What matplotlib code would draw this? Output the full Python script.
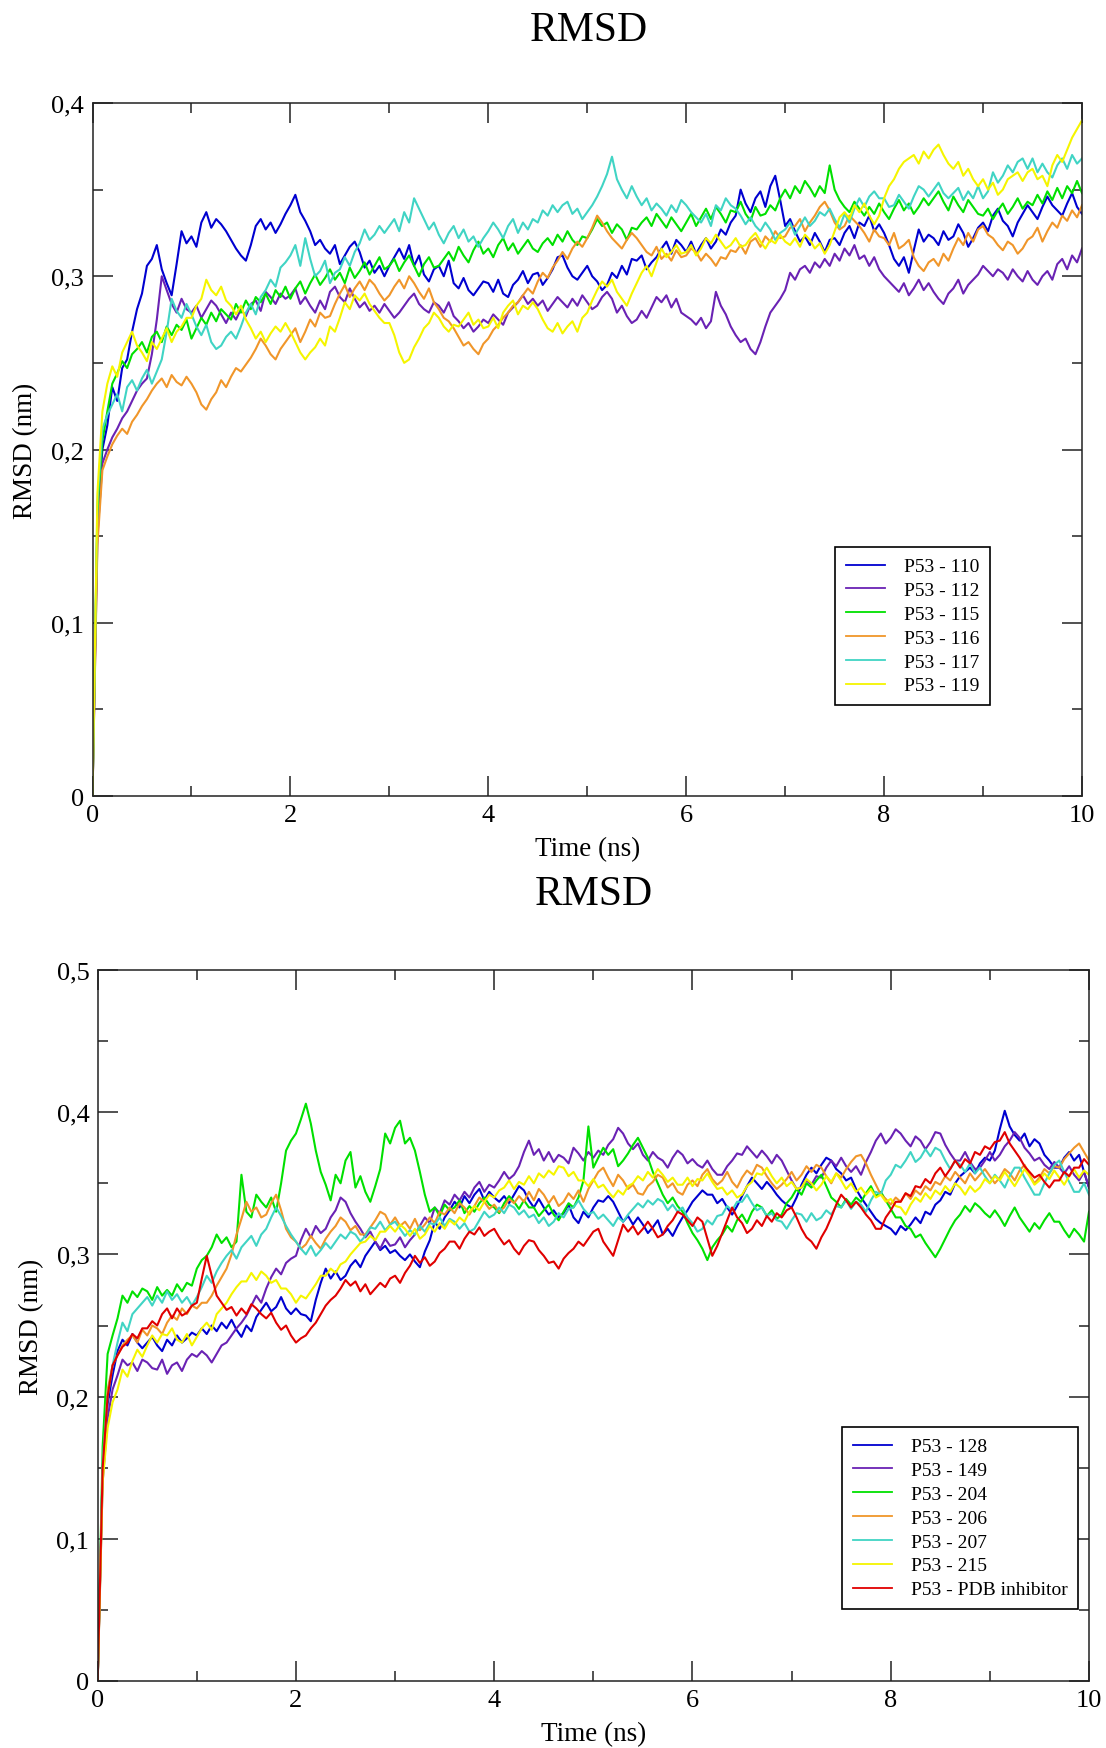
import numpy as np
import matplotlib
matplotlib.use('Agg')
import matplotlib.pyplot as plt
from matplotlib.ticker import MultipleLocator, FuncFormatter

plt.rcParams['font.family'] = ['Liberation Serif', 'DejaVu Serif']

# RMSD, in units of 0.001 nm, one value every 0.05 ns (0 .. 10 ns)
DT = 0.05

p110 = [
    0, 160, 200, 214, 236, 228, 247, 252, 268, 281, 290, 306, 310, 318, 304, 296, 289, 307, 326, 319,
    323, 317, 331, 337, 328, 333, 330, 326, 321, 316, 312, 309, 318, 329, 333, 327, 331, 325, 330, 336,
    341, 347, 337, 332, 326, 318, 321, 316, 313, 318, 307, 312, 317, 320, 314, 305, 309, 302, 306, 300,
    306, 311, 316, 310, 318, 306, 312, 301, 297, 304, 306, 300, 309, 296, 293, 299, 292, 289, 293, 297,
    296, 291, 298, 290, 288, 295, 298, 303, 296, 301, 302, 295, 299, 304, 311, 312, 305, 300, 298, 302,
    306, 300, 297, 292, 295, 302, 299, 306, 301, 310, 309, 312, 304, 308, 311, 316, 320, 313, 321, 318,
    314, 320, 313, 318, 322, 316, 320, 327, 324, 331, 335, 350, 342, 337, 345, 349, 340, 352, 358, 344,
    329, 333, 326, 320, 323, 318, 325, 320, 314, 321, 322, 318, 325, 329, 322, 331, 329, 335, 326, 330,
    325, 318, 310, 306, 311, 302, 315, 327, 320, 324, 322, 318, 326, 321, 323, 330, 325, 317, 322, 328,
    331, 326, 335, 339, 332, 329, 323, 331, 336, 341, 337, 333, 340, 346, 341, 338, 335, 342, 348, 340,
    336]

p112 = [
    0, 150, 192, 200, 207, 212, 218, 222, 228, 234, 238, 241, 255, 275, 300, 292, 284, 279, 287, 281,
    279, 283, 276, 281, 286, 283, 278, 273, 279, 275, 281, 277, 284, 286, 280, 291, 288, 284, 290, 287,
    289, 293, 284, 288, 283, 279, 286, 281, 291, 294, 288, 285, 293, 287, 282, 285, 280, 283, 279, 284,
    280, 276, 279, 283, 287, 290, 284, 281, 279, 285, 283, 279, 285, 277, 274, 270, 273, 268, 271, 275,
    273, 278, 275, 272, 279, 282, 285, 289, 284, 287, 283, 286, 280, 284, 288, 285, 282, 287, 283, 289,
    285, 281, 283, 288, 291, 287, 279, 283, 277, 273, 275, 280, 276, 282, 288, 285, 289, 282, 287, 279,
    277, 275, 272, 276, 270, 274, 291, 283, 278, 271, 266, 262, 264, 258, 255, 262, 271, 279, 283, 287,
    292, 302, 298, 304, 306, 302, 308, 305, 310, 306, 313, 309, 316, 312, 318, 310, 312, 306, 311, 304,
    300, 297, 294, 291, 296, 289, 293, 298, 292, 296, 291, 287, 284, 290, 293, 298, 290, 295, 298, 301,
    306, 303, 300, 304, 302, 298, 304, 300, 297, 303, 298, 295, 300, 303, 298, 307, 310, 304, 312, 308,
    316]

p115 = [
    0, 165, 205, 222, 238, 244, 251, 247, 255, 258, 262, 256, 265, 268, 262, 271, 266, 272, 269, 275,
    264, 270, 276, 272, 279, 274, 281, 278, 275, 284, 279, 286, 281, 288, 285, 290, 284, 292, 288, 294,
    287, 293, 297, 290, 296, 301, 295, 299, 304, 298, 302, 296, 305, 299, 303, 308, 301, 306, 311, 304,
    306, 310, 303, 308, 312, 306, 300, 307, 311, 305, 306, 310, 314, 309, 317, 312, 308, 315, 320, 313,
    316, 311, 318, 322, 315, 319, 313, 317, 321, 316, 314, 319, 322, 318, 324, 320, 326, 321, 318, 323,
    322, 327, 333, 329, 331, 325, 330, 327, 321, 328, 327, 331, 334, 329, 336, 332, 328, 334, 330, 326,
    331, 336, 329, 334, 339, 333, 340, 336, 331, 338, 337, 343, 336, 332, 340, 335, 336, 341, 338, 345,
    350, 345, 352, 348, 355, 351, 346, 352, 348, 364, 350, 344, 340, 337, 343, 339, 335, 340, 336, 342,
    337, 333, 339, 344, 338, 342, 336, 340, 345, 341, 345, 349, 343, 338, 346, 341, 337, 344, 340, 336,
    335, 339, 333, 338, 342, 336, 340, 345, 339, 343, 341, 347, 342, 349, 344, 351, 345, 352, 348, 355,
    348]

p116 = [
    0, 145, 188, 196, 203, 208, 212, 209, 216, 220, 225, 229, 234, 238, 241, 236, 243, 239, 237, 242,
    238, 233, 226, 223, 229, 233, 240, 236, 242, 247, 245, 249, 253, 258, 264, 260, 255, 252, 258, 262,
    266, 270, 262, 268, 275, 271, 279, 276, 277, 284, 290, 295, 288, 293, 297, 292, 298, 295, 290, 286,
    289, 294, 298, 293, 300, 296, 291, 287, 293, 285, 281, 276, 274, 270, 265, 260, 262, 258, 255, 261,
    264, 269, 272, 276, 279, 283, 285, 289, 293, 290, 297, 302, 299, 305, 309, 314, 310, 316, 320, 317,
    322, 328, 335, 331, 326, 322, 319, 316, 321, 325, 322, 318, 314, 312, 317, 310, 313, 309, 315, 311,
    312, 316, 314, 309, 313, 310, 306, 311, 310, 315, 314, 318, 313, 320, 322, 317, 323, 320, 326, 322,
    323, 328, 329, 333, 326, 331, 335, 340, 343, 338, 331, 327, 329, 335, 332, 329, 325, 320, 327, 323,
    322, 318, 325, 316, 318, 321, 311, 306, 303, 308, 310, 306, 313, 309, 316, 322, 318, 325, 320, 327,
    329, 324, 322, 318, 315, 320, 318, 313, 316, 321, 323, 328, 320, 326, 331, 328, 335, 332, 338, 334,
    341]

p117 = [
    0, 170, 212, 220, 226, 232, 222, 236, 240, 234, 241, 246, 238, 245, 252, 268, 287, 280, 276, 284,
    278, 271, 266, 272, 262, 258, 260, 265, 268, 264, 271, 279, 284, 278, 288, 292, 298, 294, 305, 308,
    312, 318, 306, 322, 310, 300, 303, 309, 296, 302, 304, 311, 306, 314, 319, 327, 321, 324, 329, 325,
    329, 333, 326, 337, 331, 345, 339, 333, 327, 331, 324, 319, 325, 329, 322, 327, 320, 323, 317, 322,
    326, 331, 327, 322, 329, 333, 325, 331, 327, 333, 331, 338, 335, 341, 337, 341, 343, 336, 339, 333,
    337, 341, 346, 352, 359, 369, 356, 350, 345, 352, 346, 341, 345, 338, 342, 339, 335, 341, 337, 344,
    341, 337, 334, 331, 336, 329, 341, 338, 345, 341, 339, 335, 330, 334, 329, 326, 331, 327, 321, 325,
    327, 331, 324, 329, 334, 329, 332, 337, 335, 339, 333, 328, 336, 331, 339, 345, 340, 346, 349, 345,
    345, 340, 341, 347, 343, 339, 346, 352, 350, 346, 350, 354, 348, 345, 348, 351, 344, 349, 345, 352,
    345, 349, 360, 354, 358, 364, 360, 366, 368, 362, 368, 360, 365, 360, 357, 364, 368, 362, 370, 365,
    368]

p119 = [
    0, 175, 222, 238, 248, 242, 256, 262, 268, 260, 256, 251, 262, 258, 264, 270, 262, 268, 271, 276,
    276, 283, 287, 298, 292, 289, 294, 286, 283, 278, 283, 275, 270, 264, 268, 262, 267, 271, 268, 273,
    268, 262, 256, 252, 256, 259, 264, 260, 271, 268, 276, 285, 281, 289, 286, 290, 284, 280, 276, 273,
    273, 266, 256, 250, 252, 259, 264, 270, 273, 279, 276, 271, 268, 272, 271, 275, 279, 272, 275, 270,
    271, 276, 270, 279, 283, 286, 278, 283, 281, 285, 281, 275, 270, 268, 273, 267, 271, 274, 268, 276,
    279, 286, 292, 297, 294, 298, 291, 287, 283, 290, 296, 302, 306, 300, 308, 316, 311, 314, 318, 313,
    314, 318, 312, 316, 322, 319, 324, 320, 316, 318, 322, 317, 318, 322, 325, 320, 316, 321, 319, 324,
    320, 318, 322, 317, 324, 321, 316, 319, 313, 318, 326, 334, 337, 333, 341, 337, 342, 335, 330, 335,
    345, 352, 356, 362, 366, 368, 370, 365, 372, 368, 373, 376, 370, 365, 362, 366, 358, 362, 356, 352,
    356, 350, 354, 347, 350, 356, 358, 360, 355, 360, 362, 356, 358, 352, 364, 370, 366, 373, 380, 385,
    390]

p128 = [
    0, 150, 195, 215, 232, 240, 236, 244, 238, 234, 238, 242, 236, 232, 240, 236, 243, 238, 241, 245,
    243, 248, 244, 250, 246, 252, 248, 254, 247, 242, 250, 246, 256, 261, 266, 260, 263, 270, 262, 258,
    262, 258, 257, 253, 268, 280, 290, 283, 288, 282, 285, 292, 296, 291, 299, 304, 309, 303, 306, 301,
    303, 299, 296, 300, 295, 291, 302, 310, 323, 318, 326, 331, 337, 333, 341, 336, 342, 346, 338, 344,
    340, 337, 341, 336, 342, 348, 345, 338, 333, 339, 333, 328, 331, 326, 329, 335, 326, 322, 330, 326,
    333, 338, 337, 341, 337, 330, 323, 327, 321, 326, 321, 315, 319, 324, 314, 318, 313, 320, 326, 331,
    337, 341, 345, 342, 342, 336, 339, 333, 328, 334, 341, 348, 354, 350, 346, 351, 347, 342, 338, 335,
    333, 340, 349, 356, 361, 357, 363, 368, 366, 360, 357, 352, 354, 346, 340, 335, 330, 325, 322, 320,
    318, 314, 320, 317, 321, 326, 322, 330, 328, 335, 338, 344, 342, 350, 355, 358, 361, 357, 364, 368,
    366, 373, 388, 401, 390, 384, 380, 385, 376, 381, 378, 370, 366, 361, 361, 368, 372, 366, 370, 358,
    347]

p149 = [
    0, 140, 185, 205, 215, 226, 222, 224, 218, 226, 224, 220, 219, 226, 216, 222, 224, 218, 226, 230,
    228, 232, 229, 224, 230, 236, 238, 243, 248, 252, 257, 264, 271, 266, 276, 284, 290, 286, 294, 297,
    299, 310, 318, 312, 320, 315, 318, 326, 331, 340, 337, 329, 323, 318, 312, 316, 309, 304, 311, 306,
    307, 312, 305, 310, 314, 320, 326, 322, 333, 329, 338, 335, 342, 338, 344, 340, 347, 351, 344, 349,
    347, 352, 358, 353, 356, 362, 372, 380, 370, 374, 366, 372, 365, 370, 368, 364, 375, 371, 366, 372,
    368, 373, 370, 377, 381, 389, 385, 378, 374, 378, 370, 366, 372, 368, 366, 361, 368, 373, 370, 364,
    367, 363, 361, 366, 360, 356, 356, 362, 366, 371, 370, 376, 372, 368, 373, 369, 364, 370, 366, 359,
    352, 346, 347, 352, 349, 355, 354, 361, 366, 362, 368, 362, 358, 362, 356, 365, 372, 380, 385, 378,
    382, 388, 385, 380, 376, 383, 380, 374, 379, 386, 385, 377, 371, 366, 366, 372, 365, 360, 361, 366,
    372, 366, 370, 376, 380, 386, 382, 375, 371, 366, 368, 363, 360, 365, 361, 357, 362, 356, 352, 358,
    347]

p204 = [
    0, 165, 230, 243, 255, 271, 266, 274, 270, 276, 274, 268, 277, 271, 275, 271, 279, 274, 280, 278,
    290, 296, 299, 305, 314, 308, 312, 305, 309, 356, 330, 326, 342, 337, 333, 340, 330, 350, 373, 380,
    385, 395, 406, 392, 373, 358, 349, 338, 356, 350, 366, 372, 347, 355, 344, 337, 348, 360, 385, 378,
    389, 394, 378, 382, 373, 358, 342, 330, 333, 327, 335, 331, 333, 338, 329, 334, 330, 336, 340, 335,
    333, 329, 336, 341, 337, 332, 338, 333, 333, 327, 331, 335, 328, 324, 330, 336, 333, 340, 352, 390,
    361, 368, 375, 370, 374, 362, 366, 371, 377, 382, 375, 368, 358, 350, 342, 336, 340, 334, 330, 322,
    315, 310, 304, 296, 305, 310, 314, 320, 316, 324, 328, 322, 330, 335, 333, 327, 331, 325, 328, 336,
    340, 346, 342, 350, 347, 352, 356, 348, 340, 337, 333, 339, 335, 340, 337, 343, 348, 341, 344, 338,
    332, 326, 326, 320, 318, 312, 314, 308, 303, 298, 304, 311, 318, 324, 328, 334, 330, 336, 333, 329,
    326, 331, 326, 320, 327, 333, 326, 321, 316, 322, 318, 324, 329, 323, 323, 317, 312, 318, 314, 309,
    330]

p206 = [
    0, 145, 205, 222, 229, 236, 240, 243, 238, 247, 243, 250, 248, 244, 252, 257, 254, 262, 258, 264,
    262, 266, 266, 271, 278, 284, 290, 300, 314, 325, 337, 330, 333, 326, 328, 336, 342, 331, 318, 312,
    309, 304, 307, 313, 308, 304, 311, 316, 320, 326, 323, 317, 320, 314, 314, 319, 324, 330, 328, 321,
    326, 320, 323, 318, 325, 317, 321, 326, 322, 330, 328, 333, 329, 336, 333, 328, 334, 340, 337, 332,
    335, 330, 333, 339, 336, 341, 337, 344, 338, 346, 342, 336, 341, 334, 337, 343, 339, 345, 337, 346,
    352, 358, 361, 354, 348, 356, 352, 346, 349, 343, 342, 348, 351, 356, 354, 347, 350, 344, 342, 349,
    352, 348, 356, 360, 353, 349, 352, 358, 351, 347, 354, 359, 356, 363, 361, 355, 350, 346, 349, 353,
    358, 352, 356, 362, 358, 363, 361, 355, 350, 357, 354, 360, 365, 369, 370, 364, 356, 349, 342, 339,
    335, 340, 337, 343, 339, 345, 342, 348, 345, 351, 349, 355, 352, 358, 354, 350, 357, 352, 356, 360,
    355, 350, 354, 360, 357, 352, 359, 363, 356, 350, 354, 360, 357, 362, 361, 367, 371, 375, 378, 372,
    366]

p207 = [
    0, 155, 200, 222, 238, 252, 246, 258, 262, 266, 270, 264, 271, 266, 274, 268, 272, 266, 270, 264,
    270, 277, 285, 280, 288, 294, 299, 303, 297, 305, 309, 313, 306, 314, 318, 326, 333, 327, 320, 314,
    309, 304, 300, 306, 299, 303, 308, 304, 309, 314, 311, 316, 314, 309, 313, 319, 318, 323, 317, 321,
    323, 318, 313, 317, 314, 320, 316, 322, 321, 326, 320, 325, 323, 318, 322, 316, 318, 324, 330, 326,
    328, 333, 329, 335, 333, 328, 331, 326, 328, 322, 326, 320, 323, 329, 326, 332, 333, 338, 332, 328,
    330, 325, 328, 324, 320, 326, 323, 328, 332, 336, 333, 338, 335, 339, 337, 331, 335, 330, 333, 326,
    322, 316, 318, 324, 321, 327, 328, 334, 331, 337, 337, 342, 336, 331, 333, 327, 329, 324, 323, 318,
    324, 329, 328, 323, 329, 324, 326, 331, 328, 334, 333, 338, 332, 337, 335, 330, 338, 344, 342, 352,
    356, 363, 361, 366, 372, 365, 368, 374, 369, 375, 373, 366, 360, 366, 363, 358, 364, 357, 361, 355,
    350, 356, 352, 347, 355, 361, 361, 354, 348, 342, 342, 350, 357, 363, 366, 358, 351, 344, 344, 350,
    342]

p215 = [
    0, 140, 178, 196, 205, 219, 214, 225, 233, 228, 236, 243, 238, 244, 243, 248, 240, 238, 244, 236,
    242, 248, 252, 247, 258, 262, 266, 272, 277, 281, 281, 287, 282, 288, 285, 280, 282, 276, 276, 272,
    266, 271, 269, 274, 279, 285, 285, 290, 287, 293, 295, 300, 304, 308, 309, 313, 310, 316, 316, 320,
    316, 321, 318, 313, 318, 311, 314, 320, 316, 322, 318, 324, 321, 326, 323, 330, 334, 331, 337, 342,
    340, 345, 347, 352, 346, 351, 349, 355, 350, 357, 354, 359, 356, 362, 361, 355, 358, 352, 352, 348,
    353, 347, 349, 344, 340, 345, 342, 348, 350, 355, 352, 358, 354, 360, 356, 351, 354, 349, 349, 354,
    348, 353, 352, 357, 351, 346, 347, 342, 345, 340, 342, 348, 351, 357, 356, 361, 355, 350, 354, 348,
    351, 346, 347, 353, 350, 345, 349, 355, 351, 357, 352, 346, 350, 344, 347, 342, 346, 340, 342, 337,
    339, 334, 333, 328, 335, 340, 337, 343, 339, 345, 342, 348, 344, 350, 347, 342, 348, 344, 347, 353,
    350, 355, 352, 358, 353, 348, 354, 360, 355, 349, 352, 357, 353, 359, 354, 349, 355, 360, 354, 359,
    356]

p_pdb = [
    0, 150, 200, 222, 229, 235, 238, 244, 241, 248, 248, 253, 250, 258, 262, 255, 262, 257, 259, 264,
    266, 283, 299, 285, 271, 266, 261, 263, 257, 262, 258, 265, 262, 258, 255, 259, 252, 247, 250, 243,
    238, 241, 243, 248, 252, 258, 264, 268, 271, 276, 282, 278, 281, 274, 279, 272, 276, 280, 277, 283,
    285, 280, 287, 292, 299, 294, 298, 292, 295, 301, 304, 309, 309, 304, 311, 316, 314, 319, 313, 316,
    318, 312, 307, 310, 304, 300, 306, 310, 309, 303, 299, 294, 295, 290, 297, 301, 304, 309, 306, 311,
    316, 318, 309, 304, 299, 310, 321, 316, 320, 314, 318, 323, 318, 312, 314, 320, 324, 330, 328, 324,
    320, 326, 323, 311, 299, 306, 315, 324, 333, 326, 322, 315, 318, 324, 320, 327, 323, 329, 326, 331,
    333, 326, 318, 312, 309, 304, 312, 318, 326, 335, 342, 338, 333, 337, 333, 328, 324, 318, 318, 326,
    331, 337, 337, 343, 341, 348, 347, 353, 350, 357, 361, 355, 360, 366, 361, 367, 364, 372, 370, 376,
    374, 379, 380, 386, 378, 373, 368, 362, 358, 354, 356, 351, 347, 352, 352, 358, 355, 361, 361, 367,
    363]

top_series = [p110, p112, p115, p116, p117, p119]
top_labels = ['P53 - 110', 'P53 - 112', 'P53 - 115', 'P53 - 116', 'P53 - 117', 'P53 - 119']
top_colors = ['#0000d0', '#6a22b4', '#00e000', '#f0962a', '#40d4c4', '#f5f500']

bottom_series = [p128, p149, p204, p206, p207, p215, p_pdb]
bottom_labels = ['P53 - 128', 'P53 - 149', 'P53 - 204', 'P53 - 206', 'P53 - 207',
                 'P53 - 215', 'P53 - PDB inhibitor']
bottom_colors = ['#0000d0', '#6a22b4', '#00e000', '#f0962a', '#40d4c4', '#f5f500', '#e00000']


def comma_fmt(v, pos):
    if abs(v) < 1e-9:
        return '0'
    return ('%.1f' % v).replace('.', ',')


def draw_panel(ax, series, labels, colors, ymax, legend_xy):
    for vals, lab, col in zip(series, labels, colors):
        y = np.array(vals) / 1000.0
        t = np.arange(len(y)) * DT
        ax.plot(t, y, color=col, lw=1.5, label=lab)
    ax.set_xlim(0, 10)
    ax.set_ylim(0, ymax)
    ax.xaxis.set_major_locator(MultipleLocator(2))
    ax.xaxis.set_minor_locator(MultipleLocator(1))
    ax.yaxis.set_major_locator(MultipleLocator(0.1))
    ax.yaxis.set_minor_locator(MultipleLocator(0.05))
    ax.yaxis.set_major_formatter(FuncFormatter(comma_fmt))
    ax.tick_params(which='both', direction='in', top=True, right=True,
                   width=1.1, color='#222222', labelsize=19, pad=6)
    ax.tick_params(which='major', length=14.4)
    ax.tick_params(which='minor', length=7.2)
    for sp in ax.spines.values():
        sp.set_linewidth(1.1)
        sp.set_color('#222222')
    ax.set_xlabel('Time (ns)', fontsize=19.5, labelpad=7)
    ax.set_ylabel('RMSD (nm)', fontsize=19.5)
    leg = ax.legend(loc='upper left', bbox_to_anchor=legend_xy,
                    bbox_transform=fig.transFigure, fontsize=14,
                    frameon=True, fancybox=False, framealpha=1,
                    edgecolor='black', handlelength=2.0, handletextpad=1.0,
                    labelspacing=0.32, borderpad=0.55, borderaxespad=0)
    leg.get_frame().set_linewidth(1.2)
    for ln in leg.get_lines():
        ln.set_linewidth(1.3)


W, H = 1106, 1749
fig = plt.figure(figsize=(W / 100, H / 100), dpi=100)

ax1 = fig.add_axes([92.5 / W, 1 - 797 / H, 989.5 / W, 693 / H])
draw_panel(ax1, top_series, top_labels, top_colors, 0.4, (835 / W, 1 - 548 / H))
ax1.yaxis.set_label_coords((38 - 92.5) / 989.5, 0.5)
fig.text(589 / W, 1 - 31 / H, 'RMSD', fontsize=30, ha='center', va='center')

ax2 = fig.add_axes([97.7 / W, 1 - 1682 / H, 991.3 / W, 711 / H])
draw_panel(ax2, bottom_series, bottom_labels, bottom_colors, 0.5, (842 / W, 1 - 1428 / H))
ax2.yaxis.set_label_coords((44 - 97.7) / 991.3, 0.5)
fig.text(594 / W, 1 - 895 / H, 'RMSD', fontsize=30, ha='center', va='center')

fig.savefig('out.png', dpi=100)
